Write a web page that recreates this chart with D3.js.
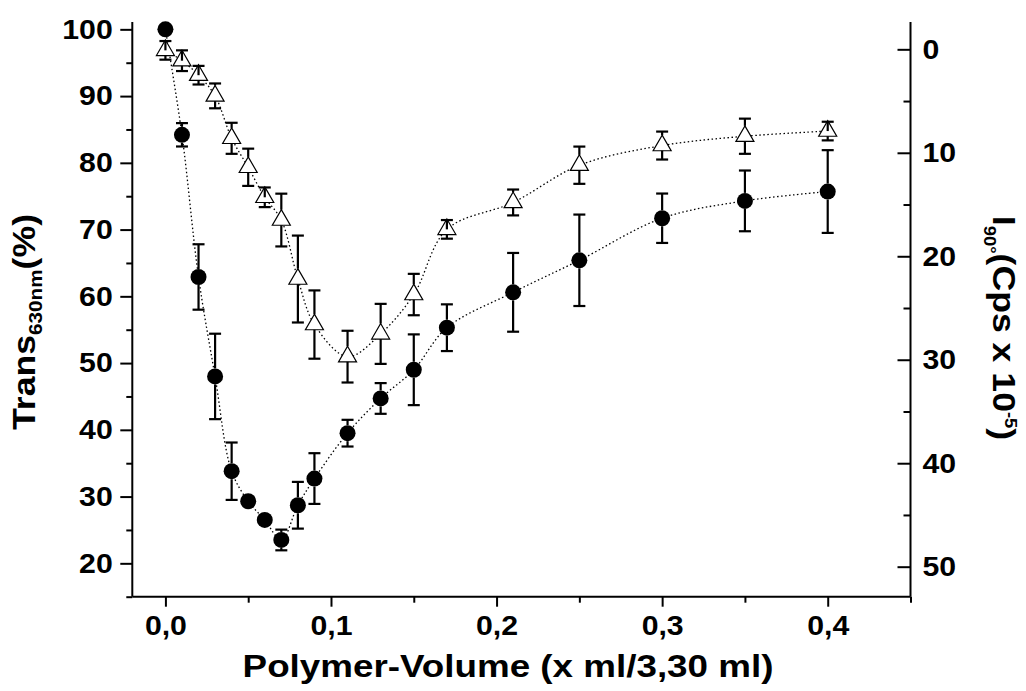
<!DOCTYPE html>
<html>
<head>
<meta charset="utf-8">
<script src="https://cdn.jsdelivr.net/npm/d3@7"></script>
<style>
  html, body { margin: 0; padding: 0; background: #fff; }
  svg text { font-family: "Liberation Sans", Arial, Helvetica, sans-serif; font-weight: bold; fill: #000; }
</style>
</head>
<body>
<svg id="chart" width="1026" height="691"></svg>
<script>
// Polymer volume fraction (x ml / 3,30 ml)
const volumes = [0.00, 0.01, 0.02, 0.03, 0.04, 0.05, 0.06, 0.07, 0.08, 0.09, 0.11, 0.13, 0.15, 0.17, 0.21, 0.25, 0.30, 0.35, 0.40];

// Transmission at 630 nm (%) – filled circles, left axis
const transValues = [100.0, 84.2, 62.9, 48.0, 33.8, 29.3, 26.5, 23.5, 28.7, 32.7, 39.5, 44.7, 49.0, 55.3, 60.6, 65.4, 71.7, 74.3, 75.7];
const transErrors = [0.0, 1.75, 4.9, 6.4, 4.3, 0.5, 0.5, 1.55, 3.5, 3.8, 2.0, 2.3, 5.3, 3.5, 5.9, 6.85, 3.7, 4.55, 6.2];

// 90° scattered intensity (Cps x 10^-5) – open triangles, right axis (reversed)
const scatterValues = [0.1, 1.1, 2.5, 4.5, 8.6, 11.4, 14.3, 16.5, 22.2, 26.6, 29.7, 27.5, 23.7, 17.4, 14.8, 11.2, 9.3, 8.4, 7.9];
const scatterErrors = [0.9, 1.0, 0.9, 1.2, 1.5, 1.8, 0.95, 2.55, 4.2, 3.3, 2.5, 2.9, 2.0, 0.9, 1.25, 1.8, 1.35, 1.7, 0.9];

// Axis ticks
const xMajorTicks = [0.0, 0.1, 0.2, 0.3, 0.4];
const xMinorTicks = [0.05, 0.15, 0.25, 0.35, 0.45];
const leftMajorTicks = [20, 30, 40, 50, 60, 70, 80, 90, 100];
const leftMinorTicks = [15, 25, 35, 45, 55, 65, 75, 85, 95];
const rightMajorTicks = [0, 10, 20, 30, 40, 50];
const rightMinorTicks = [5, 15, 25, 35, 45];

const svg = d3.select("#chart");

const plot = { left: 132.3, right: 910.5, top: 22, bottom: 596.7 };

const x = d3.scaleLinear().domain([-0.02, 0.45]).range([plot.left, plot.right]);
const yL = d3.scaleLinear().domain([15, 101.1]).range([plot.bottom, plot.top]);
const yR = d3.scaleLinear().domain([-2.64, 52.9]).range([plot.top, plot.bottom]);

const commaFmt = d => d3.format(".1f")(d).replace(".", ",");

// Lettering: wide bold sans, Arial-style glyphs stretched along the reading direction
const tickStretch = 1.1;
const titleStretch = 1.15;
const tickFont = 27.5;
const titleFont = 31;
const subFont = 18;

function styleAxis(g) {
  g.select(".domain").remove();
  g.selectAll(".tick line").attr("stroke", "#000").attr("stroke-width", 2);
  g.selectAll(".tick text").attr("font-size", tickFont);
}

// Bottom axis
const gx = svg.append("g").attr("transform", `translate(0,${plot.bottom})`);
gx.call(d3.axisBottom(x).tickValues(xMajorTicks).tickSize(10).tickPadding(9).tickFormat(commaFmt)).call(styleAxis);
gx.selectAll(".tick text").attr("transform", `scale(${tickStretch},1)`);
const gxm = svg.append("g").attr("transform", `translate(0,${plot.bottom})`);
gxm.call(d3.axisBottom(x).tickValues(xMinorTicks).tickSize(6).tickFormat("")).call(styleAxis);

// Left axis
const gl = svg.append("g").attr("transform", `translate(${plot.left},0)`);
gl.call(d3.axisLeft(yL).tickValues(leftMajorTicks).tickSize(12).tickFormat(d3.format("d"))).call(styleAxis);
gl.selectAll(".tick text").attr("x", -19.6 / tickStretch).attr("transform", `scale(${tickStretch},1)`);
const glm = svg.append("g").attr("transform", `translate(${plot.left},0)`);
glm.call(d3.axisLeft(yL).tickValues(leftMinorTicks).tickSize(6).tickFormat("")).call(styleAxis);

// Right axis: ticks point inward, labels outside
const gr = svg.append("g").attr("transform", `translate(${plot.right},0)`);
gr.call(d3.axisLeft(yR).tickValues(rightMajorTicks).tickSize(13).tickFormat(d3.format("d"))).call(styleAxis);
gr.selectAll(".tick text").attr("text-anchor", "start").attr("x", 12 / tickStretch).attr("transform", `scale(${tickStretch},1)`);
const grm = svg.append("g").attr("transform", `translate(${plot.right},0)`);
grm.call(d3.axisLeft(yR).tickValues(rightMinorTicks).tickSize(7).tickFormat("")).call(styleAxis);

// Axis lines
const axisLines = svg.append("g").attr("stroke", "#000").attr("stroke-width", 2);
axisLines.append("line").attr("x1", plot.left).attr("x2", plot.right).attr("y1", plot.bottom).attr("y2", plot.bottom);
axisLines.append("line").attr("x1", plot.left).attr("x2", plot.left).attr("y1", plot.top).attr("y2", plot.bottom);
axisLines.append("line").attr("x1", plot.right).attr("x2", plot.right).attr("y1", plot.top).attr("y2", plot.bottom);

// Axis titles
svg.append("text")
  .attr("transform", `translate(508,677) scale(${titleStretch},1)`)
  .attr("text-anchor", "middle")
  .attr("font-size", 32)
  .text("Polymer-Volume (x ml/3,30 ml)");

const leftTitle = svg.append("text")
  .attr("transform", `translate(35,322) rotate(-90) scale(${titleStretch},1)`)
  .attr("text-anchor", "middle")
  .attr("font-size", titleFont);
leftTitle.append("tspan").text("Trans");
leftTitle.append("tspan").attr("font-size", subFont).attr("dy", 7).text("630nm");
leftTitle.append("tspan").attr("dy", -7).text("(%)");

const rightTitle = svg.append("text")
  .attr("transform", `translate(993,328) rotate(90) scale(${titleStretch},1)`)
  .attr("text-anchor", "middle")
  .attr("font-size", titleFont);
rightTitle.append("tspan").text("I");
rightTitle.append("tspan").attr("font-size", 16).attr("dy", 9).text("90°");
rightTitle.append("tspan").attr("dy", -9).text("(Cps x 10");
rightTitle.append("tspan").attr("font-size", 16).attr("dy", -12).text("-5");
rightTitle.append("tspan").attr("dy", 12).text(")");

// Data
const transData = volumes.map((v, i) => ({ x: v, y: transValues[i], e: transErrors[i] }));
const scatterData = volumes.map((v, i) => ({ x: v, y: scatterValues[i], e: scatterErrors[i] }));

// Dotted spline connections
const lineL = d3.line().x(d => x(d.x)).y(d => yL(d.y)).curve(d3.curveCatmullRom.alpha(0.5));
const lineR = d3.line().x(d => x(d.x)).y(d => yR(d.y)).curve(d3.curveCatmullRom.alpha(0.5));

svg.append("path").datum(transData).attr("d", lineL)
  .attr("fill", "none").attr("stroke", "#000").attr("stroke-width", 1.3).attr("stroke-dasharray", "1.5,2.5");
svg.append("path").datum(scatterData).attr("d", lineR)
  .attr("fill", "none").attr("stroke", "#000").attr("stroke-width", 1.3).attr("stroke-dasharray", "1.5,2.5");

const capHalf = 6;
const circleR = 8;
const triSide = 18;
const triH = triSide * Math.sqrt(3) / 2;

// Error bars: stems start at marker edge, caps at the error limit
function drawErrorBars(data, yScale, edgeUp, edgeDown) {
  const g = svg.append("g").attr("stroke", "#000").attr("stroke-width", 2.2).attr("fill", "none");
  data.forEach(d => {
    if (d.e <= 0) return;
    const cx = x(d.x), cy = yScale(d.y);
    const yTop = Math.min(yScale(d.y + d.e), yScale(d.y - d.e));
    const yBot = Math.max(yScale(d.y + d.e), yScale(d.y - d.e));
    const upStart = (cy - yTop) > edgeUp ? cy - edgeUp : cy;
    const downStart = (yBot - cy) > edgeDown ? cy + edgeDown : cy;
    g.append("line").attr("x1", cx).attr("x2", cx).attr("y1", upStart).attr("y2", yTop);
    g.append("line").attr("x1", cx).attr("x2", cx).attr("y1", downStart).attr("y2", yBot);
    g.append("line").attr("x1", cx - capHalf).attr("x2", cx + capHalf).attr("y1", yTop).attr("y2", yTop);
    g.append("line").attr("x1", cx - capHalf).attr("x2", cx + capHalf).attr("y1", yBot).attr("y2", yBot);
  });
}

// Open triangles (centroid at data point)
const triPath = `M0,${-2 * triH / 3} L${triSide / 2},${triH / 3} L${-triSide / 2},${triH / 3} Z`;
svg.append("g").selectAll("path").data(scatterData).join("path")
  .attr("d", triPath)
  .attr("transform", d => `translate(${x(d.x)},${yR(d.y)})`)
  .attr("fill", "#fff").attr("stroke", "#000").attr("stroke-width", 1.2);
drawErrorBars(scatterData, yR, 2 * triH / 3, triH / 3);

// Filled circles
svg.append("g").selectAll("circle").data(transData).join("circle")
  .attr("cx", d => x(d.x)).attr("cy", d => yL(d.y)).attr("r", circleR)
  .attr("fill", "#000");
drawErrorBars(transData, yL, circleR, circleR);
</script>
</body>
</html>
